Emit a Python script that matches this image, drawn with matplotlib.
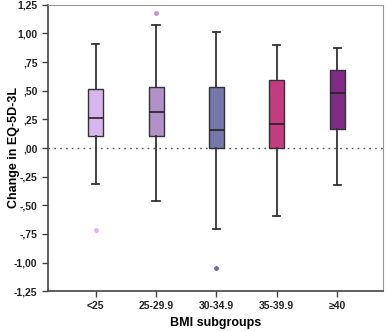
import numpy as np
import matplotlib
matplotlib.use('Agg')
import matplotlib.pyplot as plt

plt.rcParams['font.family'] = ['Liberation Sans', 'DejaVu Sans']

groups = ['<25', '25-29.9', '30-34.9', '35-39.9', '≥40']
whislo = [-0.31, -0.466, -0.708, -0.589, -0.324]
q1 = [0.103, 0.103, 0.0, 0.0, 0.167]
med = [0.263, 0.310, 0.159, 0.208, 0.481]
q3 = [0.516, 0.530, 0.530, 0.591, 0.682]
whishi = [0.911, 1.074, 1.016, 0.90, 0.876]
fliers = [[-0.713], [1.179], [-1.048], [], []]

colors = ['#D9B5EE', '#B290C8', '#7576A9', '#C13D80', '#7E2A86']
flier_colors = ['#E2B4F2', '#C294D6', '#6E6EA8', '#C13D80', '#7E2A86']

yticks = [1.25, 1.0, 0.75, 0.5, 0.25, 0.0, -0.25, -0.5, -0.75, -1.0, -1.25]
ytick_labels = ['1,25', '1,00', ',75', ',50', ',25', ',00', '-,25', '-,50', '-,75', '-1,00', '-1,25']

stats = []
for i in range(len(groups)):
	stats.append({
		'label': groups[i], 'whislo': whislo[i], 'q1': q1[i], 'med': med[i],
		'q3': q3[i], 'whishi': whishi[i], 'fliers': fliers[i],
	})

fig = plt.figure(figsize=(3.87, 3.31), dpi=100)
ax = fig.add_axes([48/387, 1 - 291.3/331, 335/387, 286.6/331])

pos = np.arange(1, len(groups) + 1)
ax.axhline(0, color='#555555', ls=(0, (1.2, 3)), lw=1.0, zorder=0)

bp = ax.bxp(stats, positions=pos, widths=0.25, capwidths=0.12, patch_artist=True,
	boxprops=dict(edgecolor='#333333', linewidth=1.0),
	medianprops=dict(color='#222222', linewidth=1.2),
	whiskerprops=dict(color='#333333', linewidth=1.3),
	capprops=dict(color='#333333', linewidth=1.3))

for i, box in enumerate(bp['boxes']):
	box.set_facecolor(colors[i])
for i, fl in enumerate(bp['fliers']):
	fl.set(marker='o', markersize=2.5, markerfacecolor=flier_colors[i],
		markeredgecolor=flier_colors[i])

ax.set_xlim(0.21, 5.76)
ax.set_ylim(-1.25, 1.25)
ax.set_yticks(yticks)
ax.set_yticklabels(ytick_labels, fontsize=7.5, fontweight='bold', color='#222222')
ax.set_xticks(pos)
ax.set_xticklabels(groups, fontsize=7.5, fontweight='bold', color='#222222')
ax.tick_params(axis='both', direction='out', length=4, width=1, color='#444444')
ax.tick_params(axis='x', pad=3)

for s in ['left', 'bottom']:
	ax.spines[s].set_color('#444444')
	ax.spines[s].set_linewidth(1.2)
for s in ['top', 'right']:
	ax.spines[s].set_color('#999999')
	ax.spines[s].set_linewidth(0.8)

ax.set_ylabel('Change in EQ-5D-3L', fontsize=9, fontweight='bold')
ax.set_xlabel('BMI subgroups', fontsize=9, fontweight='bold')
ax.yaxis.set_label_coords(-0.085, 0.502)
ax.xaxis.set_label_coords(0.5, -0.09)

fig.savefig('out.png', dpi=100)
